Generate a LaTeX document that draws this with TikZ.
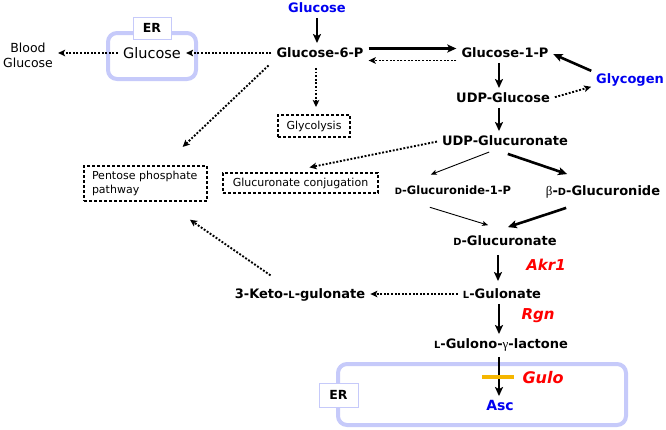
\documentclass[tikz,border=0pt]{standalone}
\usepackage{fontspec}
\setmainfont{DejaVu Sans}
\newfontfamily\grk{Liberation Serif}
\usepackage{xcolor}
\usepackage{tikz}
\usetikzlibrary{arrows.meta}

\definecolor{glcblue}{RGB}{0,0,240}
\definecolor{erlav}{RGB}{198,202,250}
\definecolor{barorange}{RGB}{245,182,0}
\newcommand{\scD}{\scalebox{.76}{D}}
\newcommand{\scL}{\scalebox{.76}{L}}

\begin{document}
\begin{tikzpicture}[
    x=1pt, y=-1pt,
    met/.style={font=\fontsize{13}{15}\selectfont\bfseries, inner sep=2pt, text height=9.5pt, text depth=0pt},
    smallmet/.style={met, font=\fontsize{11.5}{14}\selectfont\bfseries, text height=8.4pt},
    plain/.style={font=\fontsize{13}{15}\selectfont, inner sep=2pt, align=center},
    gene/.style={font=\fontsize{15}{18}\selectfont\bfseries\itshape, text=red, inner sep=2pt},
    pathbox/.style={draw, dash pattern=on 3pt off 2pt, line width=1.1pt, font=\fontsize{11}{14}\selectfont, inner sep=0pt, outer sep=5pt},
    erbox/.style={draw=erlav, line width=4pt, rounded corners=9pt, inner sep=0pt},
    erlabel/.style={draw=erlav, line width=1pt, fill=white, font=\fontsize{12.5}{15}\selectfont\bfseries, inner sep=0pt},
    arrow/.style={-{Stealth[length=9pt, width=8pt, inset=2pt]}, line width=2.6pt, shorten <=3pt, shorten >=3pt},
    thinarrow/.style={-{Stealth[length=6pt, width=5pt, inset=1.5pt]}, line width=0.9pt, shorten <=3pt, shorten >=3pt},
    dotarrow/.style={-{Stealth[length=7pt, width=6.5pt, inset=1.5pt]}, line width=1.9pt, dash pattern=on 1.9pt off 1.7pt, shorten <=3pt, shorten >=3pt},
    gulobar/.style={line width=4pt, barorange}
]
\useasboundingbox (0,0) rectangle (666,429);

% Top: glucose entry
\node[met, text=glcblue] (glc) at (317,8) {Glucose};
\node[met] (g6p) at (320,53) {Glucose-6-P};

% Left: ER and blood
\node[erbox, minimum width=88pt, minimum height=46pt] (erA) at (152,56) {};
\node[erlabel, minimum width=38pt, minimum height=22pt] (erAlab) at (152,28) {ER};
\node[plain, font=\fontsize{14.5}{17}\selectfont, text height=10.5pt, text depth=0pt] (ergl) at (152,53) {Glucose};
\node[plain, font=\fontsize{12.5}{15}\selectfont] (blood) at (28,55.5) {Blood\\Glucose};

% Right: glycogen branch
\node[met] (g1p) at (505,53) {Glucose-1-P};
\node[met, text=glcblue] (glycogen) at (630,79) {Glycogen};
\node[met] (udpg) at (503,98) {UDP-Glucose};
\node[met] (udpga) at (505,141) {UDP-Glucuronate};

% Side pathways
\node[pathbox, minimum width=72pt, minimum height=22pt] (glycolysis) at (314,126) {Glycolysis};
\node[pathbox, minimum width=123pt, minimum height=35pt, text width=107pt, align=left] (ppp) at (145.5,183.5) {Pentose phosphate\\pathway};
\node[pathbox, minimum width=155pt, minimum height=20pt] (gconj) at (300.5,183) {Glucuronate conjugation};

% Glucuronate branch down to ascorbate
\node[smallmet] (g1pde) at (453,190) {\scD-Glucuronide-1-P};
\node[met] (bglc) at (603,191) {{\grk\mdseries β}-\scD-Glucuronide};
\node[met] (dglca) at (505,241) {\scD-Glucuronate};
\node[gene] (akr) at (546,265) {Akr1};
\node[met] (lgul) at (502,294) {\scL-Gulonate};
\node[met] (keto) at (300,294) {3-Keto-\scL-gulonate};
\node[gene] (rgn) at (538,316) {Rgn};
\node[met] (lact) at (501,344) {\scL-Gulono-{\grk\mdseries γ}-lactone};

% Bottom: ER
\node[erbox, minimum width=288pt, minimum height=61pt] (erB) at (482,394.5) {};
\node[erlabel, minimum width=39pt, minimum height=24pt] (erBlab) at (338.5,395) {ER};
\node[gene, font=\fontsize{16}{19}\selectfont\bfseries\itshape] (gulo) at (543,378) {Gulo};
\node[met, font=\fontsize{14}{17}\selectfont\bfseries, text=glcblue] (asc) at (500,406) {Asc};

% Arrows
\draw[arrow] (glc.south) -- (glc.south |- g6p.north);
\draw[dotarrow] (g6p.west) -- (ergl.east);
\draw[dotarrow] (ergl.west) -- (ergl.west -| blood.east);
\draw[arrow] ([yshift=4.5pt]g6p.east) -- ([yshift=4.5pt]g6p.east -| g1p.west);
\draw[dotarrow] ([yshift=-7.5pt]g1p.west) -- ([yshift=-7.5pt]g1p.west -| g6p.east);
\draw[arrow] (glycogen.north west) -- (g1p.east);
\draw[arrow] ([xshift=-6pt]g1p.south) -- ([xshift=-6pt]g1p.south |- udpg.north);
\draw[dotarrow] (udpg.east) -- (glycogen.south west);
\draw[arrow] ([xshift=-4pt]udpg.south) -- ([xshift=-4pt]udpg.south |- udpga.north);
\draw[dotarrow, shorten <=8pt] ([xshift=-4pt]g6p.south) -- ([xshift=-4pt]g6p.south |- glycolysis.north);
\draw[dotarrow, shorten <=8pt] (g6p.south west) -- ([xshift=35pt,yshift=12pt]ppp.north);
\draw[dotarrow] (udpga.west) -- ([xshift=6pt]gconj.north);
\draw[thinarrow] ([xshift=-13pt,yshift=-3pt]udpga.south) -- ([xshift=-25pt,yshift=8pt]g1pde.north);
\draw[arrow] ([yshift=-5pt]udpga.south) -- ([xshift=-33pt,yshift=9pt]bglc.north);
\draw[thinarrow] ([xshift=-26pt,yshift=-10pt]g1pde.south) -- ([xshift=-14pt,yshift=8pt]dglca.north);
\draw[arrow] ([xshift=-34pt,yshift=-9pt]bglc.south) -- ([yshift=6pt]dglca.north);
\draw[arrow, shorten <=7pt, shorten >=6pt] ([xshift=-7pt]dglca.south) -- ([xshift=-7pt]dglca.south |- lgul.north);
\draw[dotarrow] (lgul.west) -- (keto.east);
\draw[dotarrow] ([xshift=-27pt,yshift=10pt]keto.north) -- ([xshift=42pt,yshift=-12pt]ppp.south);
\draw[arrow] ([xshift=-3pt]lgul.south) -- ([xshift=-3pt]lgul.south |- lact.north);
\draw[arrow, shorten <=6pt] ([xshift=-2pt]lact.south) -- ([xshift=-2pt]lact.south |- asc.north);

% Gulo block
\draw[gulobar] (482,377) -- (514,377);

\end{tikzpicture}
\end{document}
